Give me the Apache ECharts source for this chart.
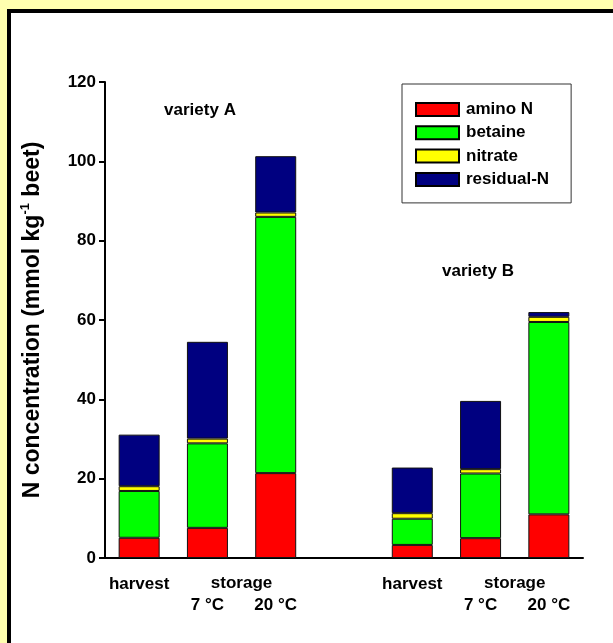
<!DOCTYPE html>
<html>
<head>
<meta charset="utf-8">
<script src="https://cdn.jsdelivr.net/npm/echarts@6/dist/echarts.min.js"></script>
<style>
html,body{margin:0;padding:0;width:613px;height:643px;background:#FFFFAF;overflow:hidden;}
#panel{position:absolute;left:7px;top:9px;width:620px;height:650px;background:#fff;border-top:4px solid #000;border-left:4px solid #000;}
#chart{position:absolute;left:0;top:0;width:613px;height:643px;}
</style>
</head>
<body>
<div id="panel"></div>
<div id="chart"></div>
<script>
var categories = ['harvest', '\n7 °C', '\n20 °C', '', 'harvest', '\n7 °C', '\n20 °C'];
var aminoN   = [5.1, 7.6, 21.4, '-', 3.3, 5.0, 11.0];
var betaine  = [11.8, 21.3, 64.6, '-', 6.6, 16.3, 48.5];
var nitrate  = [1.2, 1.2, 1.1, '-', 1.4, 1.1, 1.3];
var residual = [13.0, 24.4, 14.2, '-', 11.5, 17.2, 1.2];
var yTicks = [0, 20, 40, 60, 80, 100, 120];

var FONT = 'Liberation Sans';
var FS = 17;
var chart = echarts.init(document.getElementById('chart'), null, {renderer: 'canvas'});

function barSeries(name, data, color) {
  return {
    name: name, type: 'bar', stack: 'N', data: data, barWidth: 41,
    itemStyle: {color: color, borderColor: '#111', borderWidth: 1},
    emphasis: {disabled: true}, animation: false
  };
}

var option = {
  backgroundColor: 'transparent',
  animation: false,
  grid: {left: 105, right: 30, top: 82, bottom: 85, containLabel: false},
  legend: {
    orient: 'vertical', left: 402, top: 84,
    padding: [17, 22, 15, 13],
    borderColor: '#333', borderWidth: 1, backgroundColor: '#fff',
    itemWidth: 43, itemHeight: 13, itemGap: 6.3,
    icon: 'rect',
    itemStyle: {borderColor: '#000', borderWidth: 2},
    textStyle: {fontFamily: FONT, fontWeight: 'bold', fontSize: FS, color: '#000', padding: [0, 0, 0, 2]},
    data: ['amino N', 'betaine', 'nitrate', 'residual-N']
  },
  xAxis: {
    type: 'category', data: categories, boundaryGap: true,
    axisLine: {lineStyle: {color: '#000', width: 2}},
    axisTick: {show: false},
    axisLabel: {interval: 0, margin: 16, fontFamily: FONT, fontWeight: 'bold', fontSize: FS, color: '#000', lineHeight: 21}
  },
  yAxis: {
    type: 'value', min: 0, max: 120, interval: 20,
    splitLine: {show: false},
    axisLine: {show: true, lineStyle: {color: '#000', width: 2}},
    axisTick: {show: true, length: 6, lineStyle: {color: '#000', width: 2}},
    axisLabel: {margin: 9, fontFamily: FONT, fontWeight: 'bold', fontSize: FS, color: '#000',
      formatter: function (v) { return yTicks.indexOf(v) >= 0 ? String(v) : ''; }},
    name: '{t|N concentration (mmol kg}{s|-1}{t| beet)}',
    nameLocation: 'middle', nameGap: 61,
    nameTextStyle: {
      rich: {
        t: {fontFamily: FONT, fontWeight: 'bold', fontSize: 23, color: '#000', lineHeight: 25, verticalAlign: 'bottom'},
        s: {fontFamily: FONT, fontWeight: 'bold', fontSize: 13, color: '#000', lineHeight: 25, verticalAlign: 'top', padding: [0, 0, 11, 0]}
      }
    }
  },
  series: [
    barSeries('amino N', aminoN, '#FF0000'),
    barSeries('betaine', betaine, '#00FF00'),
    barSeries('nitrate', nitrate, '#FFFF00'),
    barSeries('residual-N', residual, '#000080')
  ]
};
chart.setOption(option);

var xa1 = chart.convertToPixel({xAxisIndex: 0}, 1);
var xa2 = chart.convertToPixel({xAxisIndex: 0}, 2);
var xb1 = chart.convertToPixel({xAxisIndex: 0}, 5);
var xb2 = chart.convertToPixel({xAxisIndex: 0}, 6);
var labelY = 583;
var txt = function (x, y, s) {
  return {type: 'text', x: x, y: y, silent: true,
    style: {text: s, fill: '#000', font: 'bold ' + FS + 'px "' + FONT + '"', textAlign: 'center', textVerticalAlign: 'middle'}};
};
chart.setOption({
  graphic: [
    txt((xa1 + xa2) / 2, labelY, 'storage'),
    txt((xb1 + xb2) / 2, labelY, 'storage'),
    txt(200, 110, 'variety A'),
    txt(478, 271, 'variety B')
  ]
});
</script>
</body>
</html>
